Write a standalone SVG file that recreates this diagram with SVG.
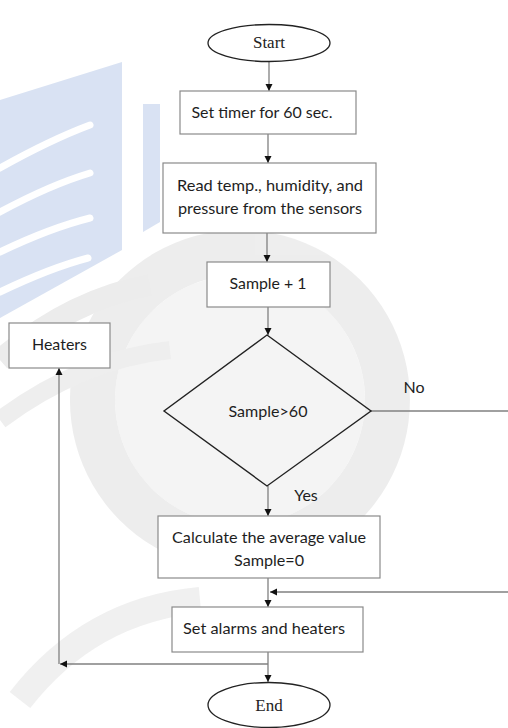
<svg xmlns="http://www.w3.org/2000/svg" width="508" height="728" viewBox="0 0 508 728">
<style>
.box{fill:#fff;stroke:#8a8a8a;stroke-width:1.2}
.term{fill:#fff;stroke:#222;stroke-width:1.3}
.dia{fill:none;stroke:#222;stroke-width:1.4}
.t{font-family:Lato,"Open Sans","Liberation Sans",sans-serif;font-size:16px;fill:#1e1e1e;text-anchor:middle}
.s{font-family:"Liberation Serif","Times New Roman",serif;font-size:17px;fill:#222;text-anchor:middle}
.c{fill:none;stroke:#808080;stroke-width:1.3}
</style>
<defs>
<marker id="ah" markerWidth="8" markerHeight="8" refX="7" refY="4" orient="auto" markerUnits="userSpaceOnUse">
<path d="M0,0.5 L7,4 L0,7.5 Z" fill="#111"/>
</marker>
</defs>
<rect width="508" height="728" fill="#fff"/>
<g id="watermark" opacity="0.85">
<path d="M0,100 L122,62 L122,250 L0,318 Z" fill="#d3def1"/>
<path d="M143,104 L160,104 L160,222 L143,232 Z" fill="#d3def1"/>
<path d="M0,168 Q50,140 90,125" stroke="#fff" stroke-width="7" fill="none" stroke-linecap="round"/>
<path d="M0,212 Q50,185 90,173" stroke="#fff" stroke-width="7" fill="none" stroke-linecap="round"/>
<path d="M0,252 Q50,228 90,218" stroke="#fff" stroke-width="7" fill="none" stroke-linecap="round"/>
<path d="M0,292 Q50,268 88,258" stroke="#fff" stroke-width="7" fill="none" stroke-linecap="round"/>
<circle cx="240" cy="400" r="125" fill="#f3f3f3"/>
<path d="M240,230 A170,170 0 1 1 239.9,230 Z M240,275 A125,125 0 1 0 240.1,275 Z" fill="#ebebeb" fill-rule="evenodd"/>
<path d="M0,360 Q70,300 150,285" stroke="#e9e9e9" stroke-width="22" fill="none"/>
<path d="M0,420 Q80,360 170,350" stroke="#ececec" stroke-width="18" fill="none"/>
<path d="M20,700 Q90,610 200,600" stroke="#eeeeee" stroke-width="26" fill="none"/>
</g>
<g id="connectors">
<line class="c" x1="269" y1="62" x2="269" y2="91" marker-end="url(#ah)" stroke="#555"/>
<line class="c" x1="268" y1="134" x2="268" y2="163" marker-end="url(#ah)"/>
<line class="c" x1="267" y1="233" x2="267" y2="262" marker-end="url(#ah)"/>
<line class="c" x1="268" y1="307" x2="268" y2="335" marker-end="url(#ah)"/>
<line class="c" x1="268" y1="486" x2="268" y2="516" marker-end="url(#ah)"/>
<line class="c" x1="268" y1="578" x2="268" y2="607" marker-end="url(#ah)"/>
<line class="c" x1="371" y1="411" x2="508" y2="411"/>
<line class="c" x1="508" y1="592" x2="270" y2="592" marker-end="url(#ah)"/>
<line class="c" x1="268" y1="652" x2="268" y2="682" marker-end="url(#ah)"/>
<line class="c" x1="268" y1="664" x2="60" y2="664" marker-end="url(#ah)"/>
<line class="c" x1="59" y1="664" x2="59" y2="368" marker-end="url(#ah)"/>
<text class="t" x="414" y="393">No</text>
<text class="t" x="306" y="501">Yes</text>
</g>
<g id="start">
<ellipse class="term" cx="269" cy="43" rx="61" ry="18.5"/>
<text class="s" x="269" y="48">Start</text>
</g>
<g id="set-timer">
<rect class="box" x="180" y="91" width="176" height="43"/>
<text class="t" x="262" y="118" textLength="141" lengthAdjust="spacingAndGlyphs">Set timer for 60 sec.</text>
</g>
<g id="read-sensors">
<rect class="box" x="163" y="163" width="213" height="70"/>
<text class="t" x="270" y="191" textLength="186" lengthAdjust="spacingAndGlyphs">Read temp., humidity, and</text>
<text class="t" x="270" y="214" textLength="184" lengthAdjust="spacingAndGlyphs">pressure from the sensors</text>
</g>
<g id="sample-inc">
<rect class="box" x="207" y="262" width="123" height="45"/>
<text class="t" x="268" y="289" textLength="77" lengthAdjust="spacingAndGlyphs">Sample + 1</text>
</g>
<g id="decision">
<polygon class="dia" points="267,335 371,411 267,486 164,411"/>
<text class="t" x="268" y="417" textLength="79" lengthAdjust="spacingAndGlyphs">Sample&gt;60</text>
</g>
<g id="heaters">
<rect class="box" x="9" y="323" width="101" height="45"/>
<text class="t" x="59.500" y="350" textLength="55" lengthAdjust="spacingAndGlyphs">Heaters</text>
</g>
<g id="calculate">
<rect class="box" x="158" y="516" width="222" height="62"/>
<text class="t" x="269" y="543" textLength="194" lengthAdjust="spacingAndGlyphs">Calculate the average value</text>
<text class="t" x="269" y="566" textLength="70" lengthAdjust="spacingAndGlyphs">Sample=0</text>
</g>
<g id="set-alarms">
<rect class="box" x="172" y="607" width="191" height="45"/>
<text class="t" x="264" y="634" textLength="162" lengthAdjust="spacingAndGlyphs">Set alarms and heaters</text>
</g>
<g id="end">
<ellipse class="term" cx="269" cy="705" rx="61" ry="22.5"/>
<text class="s" x="269" y="711">End</text>
</g>
</svg>
